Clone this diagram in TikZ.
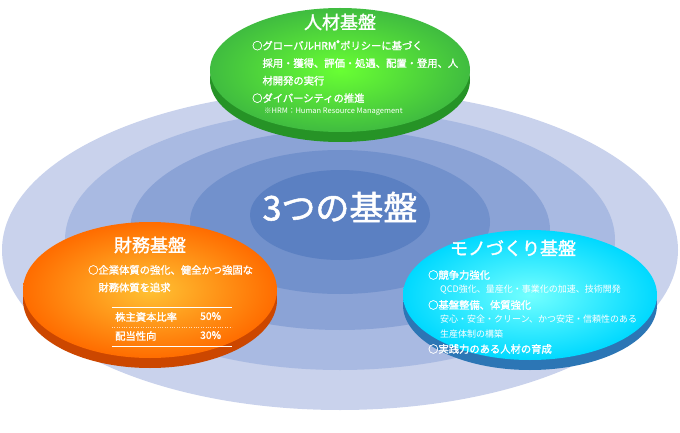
\documentclass[tikz,border=0pt]{standalone}
\usepackage{fontspec}
\setmainfont{Noto Sans CJK JP}
\newfontfamily\jpb{Noto Sans CJK JP}[FakeBold=1.5]
\begin{document}
\begin{tikzpicture}[x=1pt,y=-1pt,
  ttl/.style={font=\jpb\fontsize{18}{20}\selectfont,text=white},
  body/.style={font=\jpb\fontsize{10.3}{17.5}\selectfont,text=white,align=left,anchor=north west,inner sep=0},
  small/.style={font=\fontsize{9}{15}\selectfont,text=white,align=left,anchor=north west,inner sep=0}]
\useasboundingbox (0,0) rectangle (680,433);
\definecolor{r1}{HTML}{C9D2EC}\definecolor{r2}{HTML}{A9BAE2}\definecolor{r3}{HTML}{8BA3D6}
\definecolor{r4}{HTML}{7291CC}\definecolor{r5}{HTML}{5B80C2}
\fill[r1] (340,250) ellipse [x radius=338, y radius=160];
\fill[r2] (340,240) ellipse [x radius=275, y radius=130];
\fill[r3] (340,230) ellipse [x radius=210, y radius=100];
\fill[r4] (340,222) ellipse [x radius=150, y radius=72];
\fill[r5] (340,215) ellipse [x radius=90, y radius=45];
\node[font=\jpb\fontsize{34}{36}\selectfont,text=white] (core) at (340,207) {3つの基盤};
% green
\fill[green!50!black!85] (340,80) ellipse [x radius=130, y radius=62];
\shade[inner color=green!65!lime!80!white, outer color=green!65!black!75] (340,70) ellipse [x radius=130, y radius=62];
\node[ttl] (g) at (340,22) {人材基盤};
\node[body] (gt) at (252,40) {○グローバルHRM\textsuperscript{®}ポリシーに基づく\\\hspace*{1em}採用・獲得、評価・処遇、配置・登用、人\\\hspace*{1em}材開発の実行\\○ダイバーシティの推進};
\node[small,font=\fontsize{7.5}{8}\selectfont] (gn) at (264,108) {※HRM：Human Resource Management};
% orange
\fill[orange!70!red!80!black] (150,300) ellipse [x radius=127, y radius=68];
\shade[inner color=orange!60!yellow!80!white, outer color=orange!85!red] (150,290) ellipse [x radius=127, y radius=68];
\node[ttl] (o) at (150,245) {財務基盤};
\node[body] (ot) at (88,265) {○企業体質の強化、健全かつ強固な\\\hspace*{1em}財務体質を追求};
\draw[white,line width=0.8] (112,307) -- (232,307);
\draw[white,line width=0.8] (112,346) -- (232,346);
\draw[white!70!orange,dotted] (112,327) -- (232,327);
\node[body] at (115,312) {株主資本比率};
\node[body] at (200,312) {50\%};
\node[body] at (115,331) {配当性向};
\node[body] at (200,331) {30\%};
% blue
\fill[cyan!60!blue!85!black] (530,305) ellipse [x radius=127, y radius=65];
\shade[inner color=cyan!55!white, outer color=cyan!85!blue] (530,295) ellipse [x radius=127, y radius=65];
\node[ttl] (b) at (513,248) {モノづくり基盤};
\node[body] at (428,270) {○競争力強化};
\node[small] at (440,285) {QCD強化、量産化・事業化の加速、技術開発};
\node[body] at (428,300) {○基盤整備、体質強化};
\node[small] at (440,315) {安心・安全・クリーン、かつ安定・信頼性のある\\生産体制の構築};
\node[body] at (428,344) {○実践力のある人材の育成};
\end{tikzpicture}
\end{document}
